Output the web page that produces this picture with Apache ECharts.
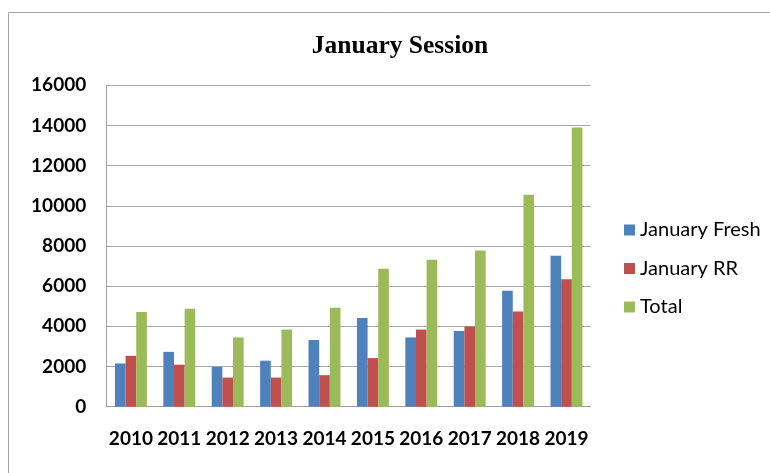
<!DOCTYPE html>
<html>
<head>
<meta charset="utf-8">
<script src="https://cdn.jsdelivr.net/npm/echarts@6/dist/echarts.min.js"></script>
<style>
html,body{margin:0;padding:0;background:#fff;}
#chart{width:770px;height:473px;}
</style>
</head>
<body>
<div id="chart"></div>
<script>
var categories = ['2010','2011','2012','2013','2014','2015','2016','2017','2018','2019'];
var januaryFresh = [2150, 2730, 1990, 2290, 3320, 4420, 3450, 3770, 5770, 7520];
var januaryRR    = [2530, 2090, 1450, 1450, 1570, 2420, 3840, 3990, 4740, 6350];
var total        = [4720, 4870, 3450, 3840, 4920, 6870, 7320, 7770, 10550, 13900];
var seriesNames = ['January Fresh', 'January RR', 'Total'];
var colors = ['#4F81BD', '#C0504D', '#9BBB59'];

var chart = echarts.init(document.getElementById('chart'));
var labelFont = 'Lato, "Liberation Sans", sans-serif';
function bar(name, data, color) {
  return {
    name: name, type: 'bar', data: data,
    barGap: '0%', barCategoryGap: '34%',
    itemStyle: { color: color },
    animation: false
  };
}
chart.setOption({
  animation: false,
  backgroundColor: '#ffffff',
  title: {
    text: 'January Session',
    left: 395, top: 28, textAlign: 'center',
    textStyle: { fontFamily: '"Liberation Serif", "Times New Roman", serif', fontWeight: 'bold', fontSize: 25.5, color: '#000' }
  },
  graphic: [{
    type: 'rect', silent: true,
    shape: { x: 8.5, y: 12.5, width: 900, height: 600 },
    style: { fill: 'none', stroke: '#a6a6a6', lineWidth: 1 }
  }],
  legend: {
    orient: 'vertical', left: 624, top: 220, padding: 0,
    itemWidth: 11, itemHeight: 11, itemGap: 18.5,
    icon: 'rect',
    textStyle: { fontFamily: labelFont, fontSize: 20, color: '#000', lineHeight: 20, padding: [0,0,0,0] },
    data: seriesNames
  },
  grid: { left: 106.7, right: 179.3, top: 85.3, bottom: 66.3, containLabel: false },
  xAxis: {
    type: 'category', data: categories,
    axisLine: { show: true, lineStyle: { color: '#a0a0a0', width: 1 } },
    axisTick: { show: false },
    axisLabel: { interval: 0, hideOverlap: false, margin: 23, color: '#000', fontFamily: labelFont, fontWeight: 'bold', fontSize: 19 }
  },
  yAxis: {
    type: 'value', min: 0, max: 16000, interval: 2000,
    axisLine: { show: true, lineStyle: { color: '#a0a0a0', width: 1 } },
    axisTick: { show: false },
    splitLine: { show: true, lineStyle: { color: '#a6a6a6', width: 1 } },
    axisLabel: { margin: 20.5, color: '#000', fontFamily: labelFont, fontWeight: 'bold', fontSize: 19,
      formatter: function (v) { return String(v); } }
  },
  series: [
    bar(seriesNames[0], januaryFresh, colors[0]),
    bar(seriesNames[1], januaryRR, colors[1]),
    bar(seriesNames[2], total, colors[2])
  ]
});
</script>
</body>
</html>
